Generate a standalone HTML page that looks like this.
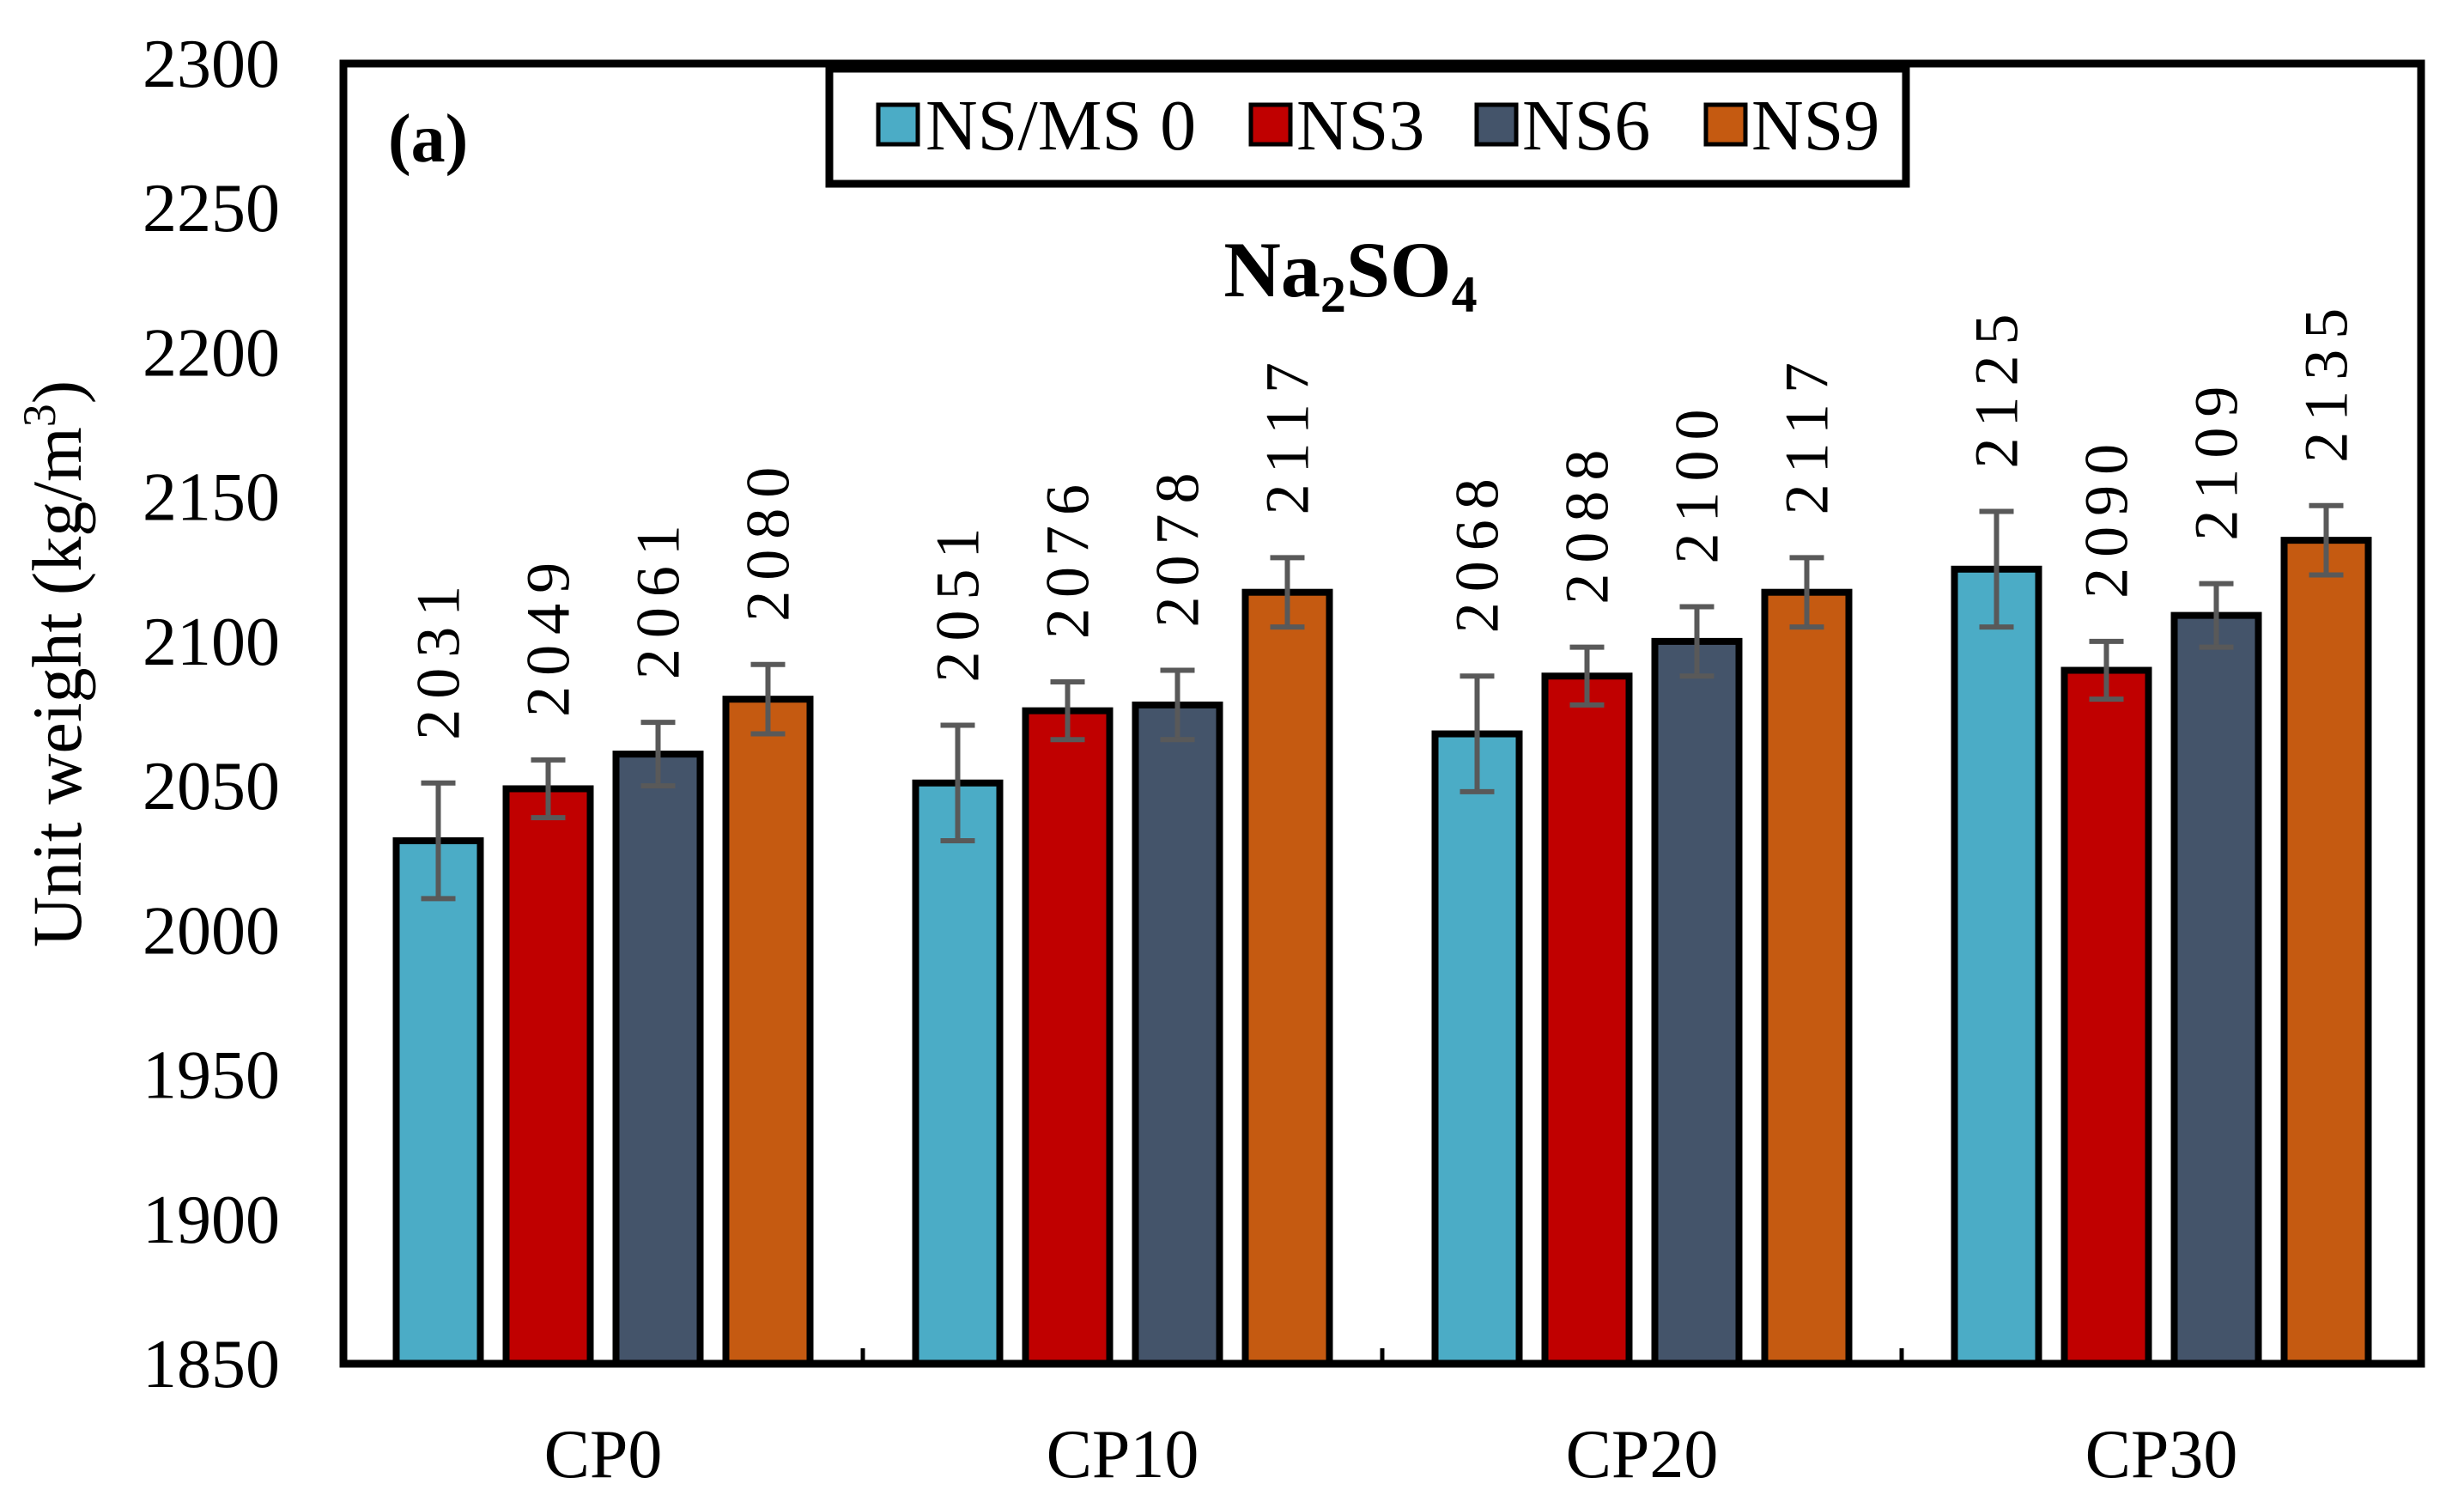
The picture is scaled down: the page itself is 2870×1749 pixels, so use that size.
<!DOCTYPE html>
<html><head><meta charset="utf-8"><style>
html,body{margin:0;padding:0;background:#fff;}
svg{display:block;font-family:"Liberation Serif",serif;}
</style></head><body>
<svg id="chart" width="2870" height="1749" viewBox="0 0 2870 1749" xmlns="http://www.w3.org/2000/svg">
<g id="axes"></g>
<g id="bars"></g>
<rect x="400" y="74" width="2420" height="1514" fill="none" stroke="#000" stroke-width="9"/>
<g>
<rect x="966" y="80" width="1254" height="134" fill="#fff" stroke="#000" stroke-width="9"/>
<g><rect x="1023" y="122" width="46" height="46" fill="#4BACC6" stroke="#000" stroke-width="5"/><text x="1078" y="174" font-size="84">NS/MS 0</text></g>
<g><rect x="1457" y="122" width="46" height="46" fill="#C00000" stroke="#000" stroke-width="5"/><text x="1510" y="174" font-size="84">NS3</text></g>
<g><rect x="1720" y="122" width="46" height="46" fill="#44546A" stroke="#000" stroke-width="5"/><text x="1773" y="174" font-size="84">NS6</text></g>
<g><rect x="1987" y="122" width="46" height="46" fill="#C55A11" stroke="#000" stroke-width="5"/><text x="2040" y="174" font-size="84">NS9</text></g>
</g>
<text x="452" y="188" font-size="80" font-weight="bold">(a)</text>
<text x="1573" y="345" font-size="92" font-weight="bold" text-anchor="middle">Na<tspan font-size="60" dy="18">2</tspan><tspan dy="-18">SO</tspan><tspan font-size="60" dy="18">4</tspan></text>
<text transform="translate(94,773) rotate(-90)" font-size="82" text-anchor="middle">Unit weight (kg/m<tspan font-size="54" dy="-30">3</tspan><tspan dy="30">)</tspan></text>
</svg>
<script>
const categories = ["CP0","CP10","CP20","CP30"];
const seriesNames = ["NS/MS 0","NS3","NS6","NS9"];
const ns0 = [2031,2051,2068,2125];
const ns3 = [2049,2076,2088,2090];
const ns6 = [2061,2078,2100,2109];
const ns9 = [2080,2117,2117,2135];
const err0 = [20,20,20,20];
const err3 = [10,10,10,10];
const err6 = [11,12,12,11];
const err9 = [12,12,12,12];
const yTicks = [1850,1900,1950,2000,2050,2100,2150,2200,2250,2300];
const colors = ["#4BACC6","#C00000","#44546A","#C55A11"];
const series = [ns0,ns3,ns6,ns9];
const errs = [err0,err3,err6,err9];
const NS = "http://www.w3.org/2000/svg";
const X0 = 400, X1 = 2820, Y0 = 1588, Y1 = 74, VMIN = 1850, VMAX = 2300;
function yS(v){ return Y0 - (v - VMIN) / (VMAX - VMIN) * (Y0 - Y1); }
const groupW = (X1 - X0) / categories.length;
function xGroup(i){ return X0 + groupW * (i + 0.5); }
function xBar(i, s){ return xGroup(i) + (s - 1.5) * 128; }
function mk(tag, attrs, parent){ const e = document.createElementNS(NS, tag); for (const k in attrs) e.setAttribute(k, attrs[k]); parent.appendChild(e); return e; }
const axes = document.getElementById('axes');
const bars = document.getElementById('bars');
yTicks.forEach(t => {
  const tx = mk('text', {x: 326, y: yS(t) + 27, 'font-size': 80, 'text-anchor': 'end'}, axes);
  
  
  tx.textContent = t;
});
categories.forEach((c, i) => {
  const tx = mk('text', {x: xGroup(i), y: 1720, 'font-size': 80, 'text-anchor': 'middle'}, axes);
  
  
  tx.textContent = c;
  if (i > 0) {
    const tk = mk('line', {x1: X0 + groupW * i, x2: X0 + groupW * i, y1: Y0, y2: Y0 - 18, stroke: '#000', 'stroke-width': 5}, axes);
    
    
  }
});
series.forEach((vals, s) => {
  vals.forEach((v, i) => {
    const cx = xBar(i, s);
    const top = yS(v);
    const r = mk('rect', {x: cx - 49, y: top, width: 98, height: Y0 - top, fill: colors[s], stroke: '#000', 'stroke-width': 8}, bars);
    
    
    const e = errs[s][i];
    const g = mk('g', {stroke: '#595959', 'stroke-width': 6}, bars);
    
    
    mk('line', {x1: cx, x2: cx, y1: yS(v + e), y2: yS(v - e)}, g);
    mk('line', {x1: cx - 20, x2: cx + 20, y1: yS(v + e), y2: yS(v + e)}, g);
    mk('line', {x1: cx - 20, x2: cx + 20, y1: yS(v - e), y2: yS(v - e)}, g);
    const ly = yS(v + e) - 50;
    const t = mk('text', {transform: 'translate(' + (cx + 24) + ',' + ly + ') rotate(-90)', 'font-size': 72, 'letter-spacing': 12}, bars);
    
    
    t.textContent = v;
  });
});
</script>
</body></html>
